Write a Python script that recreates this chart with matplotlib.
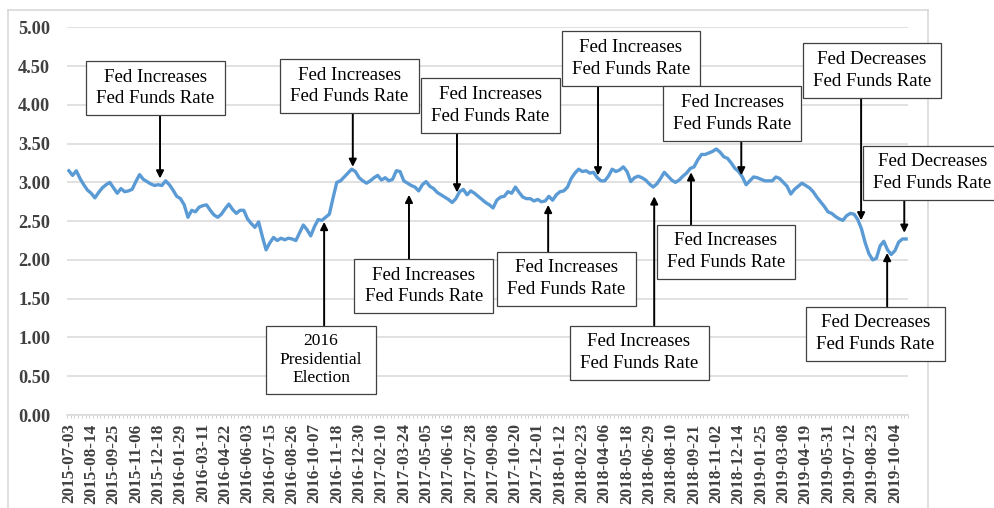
import numpy as np
import pandas as pd
import matplotlib
matplotlib.use("Agg")
import matplotlib.pyplot as plt
from matplotlib.patches import Rectangle
from matplotlib.lines import Line2D

# ---------------- data ----------------
start_date = "2015-07-03"
yields = [
    3.15, 3.09, 3.15, 3.05, 2.97, 2.90, 2.86, 2.80, 2.87, 2.93,
    2.97, 3.00, 2.93, 2.86, 2.92, 2.88, 2.89, 2.91, 3.01, 3.10,
    3.04, 3.01, 2.98, 2.96, 2.97, 2.96, 3.02, 2.97, 2.90, 2.82,
    2.79, 2.71, 2.55, 2.64, 2.62, 2.68, 2.70, 2.71, 2.64, 2.58,
    2.55, 2.59, 2.66, 2.72, 2.65, 2.60, 2.64, 2.64, 2.53, 2.47,
    2.42, 2.49, 2.30, 2.13, 2.22, 2.29, 2.25, 2.28, 2.26, 2.28,
    2.27, 2.25, 2.35, 2.45, 2.39, 2.31, 2.43, 2.52, 2.51, 2.55,
    2.59, 2.80, 3.00, 3.02, 3.07, 3.12, 3.17, 3.14, 3.06, 3.02,
    2.99, 3.02, 3.06, 3.09, 3.03, 3.06, 3.02, 3.04, 3.15, 3.14,
    3.02, 2.99, 2.96, 2.94, 2.89, 2.97, 3.01, 2.95, 2.92, 2.87,
    2.84, 2.81, 2.78, 2.74, 2.79, 2.88, 2.91, 2.84, 2.89, 2.86,
    2.82, 2.78, 2.74, 2.71, 2.67, 2.77, 2.81, 2.82, 2.88, 2.86,
    2.94, 2.87, 2.81, 2.79, 2.79, 2.76, 2.78, 2.75, 2.76, 2.82,
    2.77, 2.84, 2.88, 2.89, 2.94, 3.05, 3.12, 3.17, 3.14, 3.15,
    3.12, 3.13, 3.06, 3.02, 3.02, 3.08, 3.17, 3.14, 3.16, 3.20,
    3.14, 3.01, 3.06, 3.08, 3.06, 3.03, 2.98, 2.94, 2.98, 3.05,
    3.13, 3.08, 3.03, 3.00, 3.03, 3.08, 3.12, 3.18, 3.20, 3.29,
    3.36, 3.36, 3.38, 3.40, 3.43, 3.39, 3.33, 3.31, 3.25, 3.18,
    3.14, 3.07, 2.97, 3.02, 3.07, 3.06, 3.04, 3.02, 3.02, 3.02,
    3.07, 3.05, 3.00, 2.95, 2.85, 2.91, 2.95, 2.99, 2.96, 2.93,
    2.88, 2.81, 2.75, 2.69, 2.62, 2.60, 2.56, 2.53, 2.51, 2.57,
    2.60, 2.59, 2.52, 2.40, 2.22, 2.08, 2.00, 2.02, 2.18, 2.24,
    2.13, 2.07, 2.12, 2.23, 2.27, 2.27,
]
dates = pd.date_range(start_date, periods=len(yields), freq="7D")
tick_step = 6
y_ticks = [0.0, 0.5, 1.0, 1.5, 2.0, 2.5, 3.0, 3.5, 4.0, 4.5, 5.0]

INC = "Fed Increases\nFed Funds Rate"
DEC = "Fed Decreases\nFed Funds Rate"
ELEC = "2016\nPresidential\nElection"
# label, tip index, tip value, box centre (px from left, px from top), box w, box h, side
annotations = [
    (INC, 24.5, 3.05, (155.5, 88.0), 139, 54, "above"),
    (INC, 76.3, 3.20, (349.5, 86.0), 139, 54, "above"),
    (INC, 104.3, 2.87, (490.5, 105.5), 139, 54, "above"),
    (INC, 142.2, 3.09, (631.0, 58.5), 138, 54, "above"),
    (INC, 180.7, 3.09, (732.5, 113.5), 138, 54, "above"),
    (DEC, 212.9, 2.51, (872.0, 70.5), 138, 54, "above"),
    (DEC, 224.5, 2.35, (932.5, 172.5), 139, 54, "above"),
    (ELEC, 68.6, 2.49, (321.0, 359.5), 110, 68, "below"),
    (INC, 91.4, 2.84, (424.0, 286.0), 139, 54, "below"),
    (INC, 128.8, 2.71, (566.5, 278.5), 139, 54, "below"),
    (INC, 157.3, 2.82, (639.0, 352.5), 139, 54, "below"),
    (INC, 167.2, 3.13, (726.0, 251.5), 138, 54, "below"),
    (DEC, 219.9, 2.09, (875.5, 333.5), 139, 54, "below"),
]

# ---------------- figure ----------------
W, H, DPI = 995, 508, 100
fig = plt.figure(figsize=(W / DPI, H / DPI), dpi=DPI)
serif = ["Liberation Serif", "DejaVu Serif"]

# outer chart frame
for (x0, y0, x1, y1) in [(8, 10, 928, 10), (8, 10, 8, 508), (928, 10, 928, 508)]:
    fig.add_artist(Line2D([x0 / W, x1 / W], [1 - y0 / H, 1 - y1 / H],
                          transform=fig.transFigure, color="#d9d9d9", lw=1.2))

left, right, top, bottom = 67, 908, 27.3, 415
ax = fig.add_axes([left / W, 1 - bottom / H, (right - left) / W, (bottom - top) / H])

x = np.arange(len(yields))
ax.plot(x, yields, color="#5B9BD5", lw=2.4, solid_joinstyle="round", zorder=3)

ax.set_xlim(-0.5, len(yields) - 0.5)
ax.set_ylim(0, 5)
ax.set_yticks(y_ticks)
ax.set_yticklabels([f"{v:.2f}" for v in y_ticks], fontfamily=serif,
                   fontweight="bold", fontsize=13.2, color="#404040")
ax.grid(axis="y", color="#d9d9d9", lw=1.1)
ax.set_axisbelow(True)
ax.tick_params(axis="y", length=0, pad=12)

major = np.arange(0, len(yields), tick_step)
ax.set_xticks(major)
ax.set_xticklabels([dates[i].strftime("%Y-%m-%d") for i in major], rotation=90,
                   fontfamily=serif, fontweight="bold", fontsize=12.3, color="#404040")
ax.set_xticks(np.arange(-0.5, len(yields), 1), minor=True)
ax.tick_params(axis="x", which="major", length=0, pad=6)
ax.tick_params(axis="x", which="minor", length=2.5, width=0.6, color="#c8c8c8")
for s in ["left", "right", "top"]:
    ax.spines[s].set_visible(False)
ax.spines["bottom"].set_color("#d9d9d9")
ax.spines["bottom"].set_linewidth(1.1)

# ---------------- annotations ----------------
for label, ti, tv, (cx, cy), bw, bh, side in annotations:
    x0 = cx - bw / 2
    y_top = cy - bh / 2
    rect = Rectangle((x0 / W, 1 - (y_top + bh) / H), bw / W, bh / H,
                     transform=fig.transFigure, facecolor="white",
                     edgecolor="#404040", lw=0.9, zorder=5, clip_on=False)
    fig.add_artist(rect)
    fs = 12.5 if label == ELEC else 13.6
    ls = 1.18 if label == ELEC else 1.32
    fig.text(cx / W, 1 - cy / H, label, ha="center", va="center", fontsize=fs,
             fontfamily=serif, color="black", linespacing=ls, zorder=6)
    edge_y = (cy + bh / 2) if side == "above" else (cy - bh / 2)
    ax.annotate("", xy=(ti, tv), xycoords="data",
                xytext=(ti, H - edge_y), textcoords=("data", "figure pixels"),
                arrowprops=dict(arrowstyle="-|>", color="black", lw=1.4,
                                mutation_scale=11, shrinkA=0, shrinkB=0),
                annotation_clip=False, zorder=4)

fig.savefig("out.png", dpi=DPI)
